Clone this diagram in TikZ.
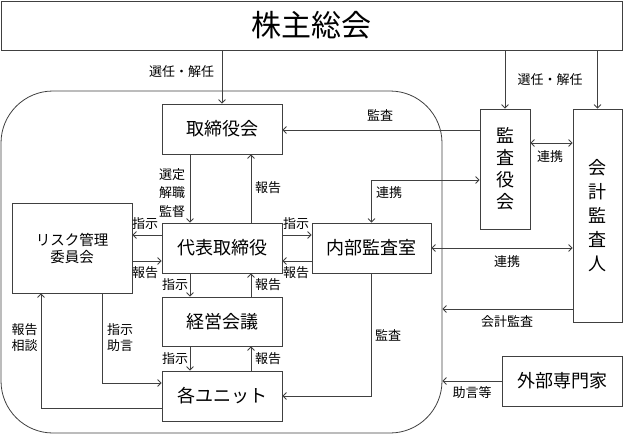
\documentclass[tikz,border=0pt]{standalone}
\usepackage{fontspec}
\setmainfont{Noto Sans CJK JP}
\usetikzlibrary{arrows.meta}
\begin{document}
\begin{tikzpicture}[x=1pt,y=-1pt,
  line width=0.8pt,
  box/.style={draw=black!75, rectangle, inner sep=0pt, font=\fontsize{18}{22}\selectfont, align=center},
  lbl/.style={inner sep=0pt, font=\fontsize{13}{16}\selectfont, align=center},
  arr/.style={draw=black!75, -{Straight Barb[length=3.5pt,width=7pt]}},
  darr/.style={draw=black!75, {Straight Barb[length=3.5pt,width=7pt]}-{Straight Barb[length=3.5pt,width=7pt]}},
]
\useasboundingbox (0,0) rectangle (623,434);

% group frame
\node[draw=black!75, rounded corners=52pt, minimum width=441pt, minimum height=342pt, inner sep=0pt] (grp) at (221.5,262) {};

% boxes
\node[box, minimum width=621pt, minimum height=49pt, font=\fontsize{30}{34}\selectfont] (soukai) at (311.5,25.5) {株主総会};
\node[box, minimum width=120pt, minimum height=50pt] (tori) at (222,129) {取締役会};
\node[box, minimum width=120pt, minimum height=50pt] (daihyo) at (222,248) {代表取締役};
\node[box, minimum width=120pt, minimum height=90pt, font=\fontsize{14.5}{17}\selectfont] (risk) at (72,248) {リスク管理\\委員会};
\node[box, minimum width=119pt, minimum height=50pt] (naibu) at (371.5,248) {内部監査室};
\node[box, minimum width=50pt, minimum height=120pt] (kansa) at (505,169) {監\\査\\役\\会};
\node[box, minimum width=49pt, minimum height=213pt, font=\fontsize{18}{24}\selectfont] (kaikei) at (597.5,215.5) {会\\計\\監\\査\\人};
\node[box, minimum width=120pt, minimum height=49pt] (keiei) at (222,321.5) {経営会議};
\node[box, minimum width=120pt, minimum height=50pt] (unit) at (222,396) {各ユニット};
\node[box, minimum width=120pt, minimum height=50pt] (gaibu) at (562,381) {外部専門家};

% connectors
\draw[arr] (tori.north |- soukai.south) -- (tori.north);
\draw[arr] (kansa.north |- soukai.south) -- (kansa.north);
\draw[arr] (kaikei.north |- soukai.south) -- (kaikei.north);
\draw[arr] ([yshift=39pt]kansa.west) -- ([yshift=39pt]kansa.west -| tori.east);
\draw[arr] ([xshift=-32pt]tori.south) -- ([xshift=-32pt]daihyo.north);
\draw[arr] ([xshift=29pt]daihyo.north) -- ([xshift=29pt]tori.south);
\draw[arr] ([yshift=13pt]daihyo.west) -- ([yshift=13pt]daihyo.west -| risk.east);
\draw[arr] ([yshift=-13pt]risk.east) -- ([yshift=-13pt]risk.east -| daihyo.west);
\draw[arr] ([yshift=13pt]daihyo.east) -- ([yshift=13pt]daihyo.east -| naibu.west);
\draw[arr] ([yshift=-13pt]naibu.west) -- ([yshift=-13pt]naibu.west -| daihyo.east);
\draw[arr] ([xshift=-32pt]daihyo.south) -- ([xshift=-32pt]keiei.north);
\draw[arr] ([xshift=29pt]keiei.north) -- ([xshift=29pt]daihyo.south);
\draw[arr] ([xshift=-32pt]keiei.south) -- ([xshift=-32pt]unit.north);
\draw[arr] ([xshift=29pt]unit.north) -- ([xshift=29pt]keiei.south);
\draw[arr] ([xshift=30pt]risk.south) |- ([yshift=13pt]unit.west);
\draw[arr] ([yshift=-12pt]unit.west) -| ([xshift=-31pt]risk.south);
\draw[arr] (naibu.south) |- (unit.east);
\draw[darr] (naibu.north) |- ([yshift=-11pt]kansa.west);
\draw[darr] ([yshift=26pt]kansa.east) -- ([yshift=26pt]kansa.east -| kaikei.west);
\draw[darr] (naibu.east) -- (naibu.east -| kaikei.west);
\draw[arr] ([yshift=-93.5pt]kaikei.west) -- ([yshift=-93.5pt]kaikei.west -| grp.east);
\draw[arr] (gaibu.west) -- (gaibu.west -| grp.east);

% labels
\node[lbl] (l1) at (181.5,72) {選任・解任};
\node[lbl] (l2) at (550,80) {選任・解任};
\node[lbl] (l3) at (380,115) {監査};
\node[lbl, font=\fontsize{13}{18.5}\selectfont] (l4) at (172,193) {選定\\解職\\監督};
\node[lbl] (l5) at (268,188) {報告};
\node[lbl] (l6) at (145,224) {指示};
\node[lbl] (l7) at (145,273) {報告};
\node[lbl] (l8) at (296,224) {指示};
\node[lbl] (l9) at (296,273) {報告};
\node[lbl] (l10) at (175,285) {指示};
\node[lbl] (l11) at (268,285) {報告};
\node[lbl] (l12) at (175,359) {指示};
\node[lbl] (l13) at (268,359) {報告};
\node[lbl] (l14) at (120,338) {指示\\助言};
\node[lbl] (l15) at (24.5,338) {報告\\相談};
\node[lbl] (l16) at (388,335) {監査};
\node[lbl] (l17) at (389,193) {連携};
\node[lbl] (l18) at (550,157) {連携};
\node[lbl] (l19) at (507,262) {連携};
\node[lbl] (l20) at (507,322) {会計監査};
\node[lbl] (l21) at (472,393) {助言等};
\end{tikzpicture}
\end{document}
